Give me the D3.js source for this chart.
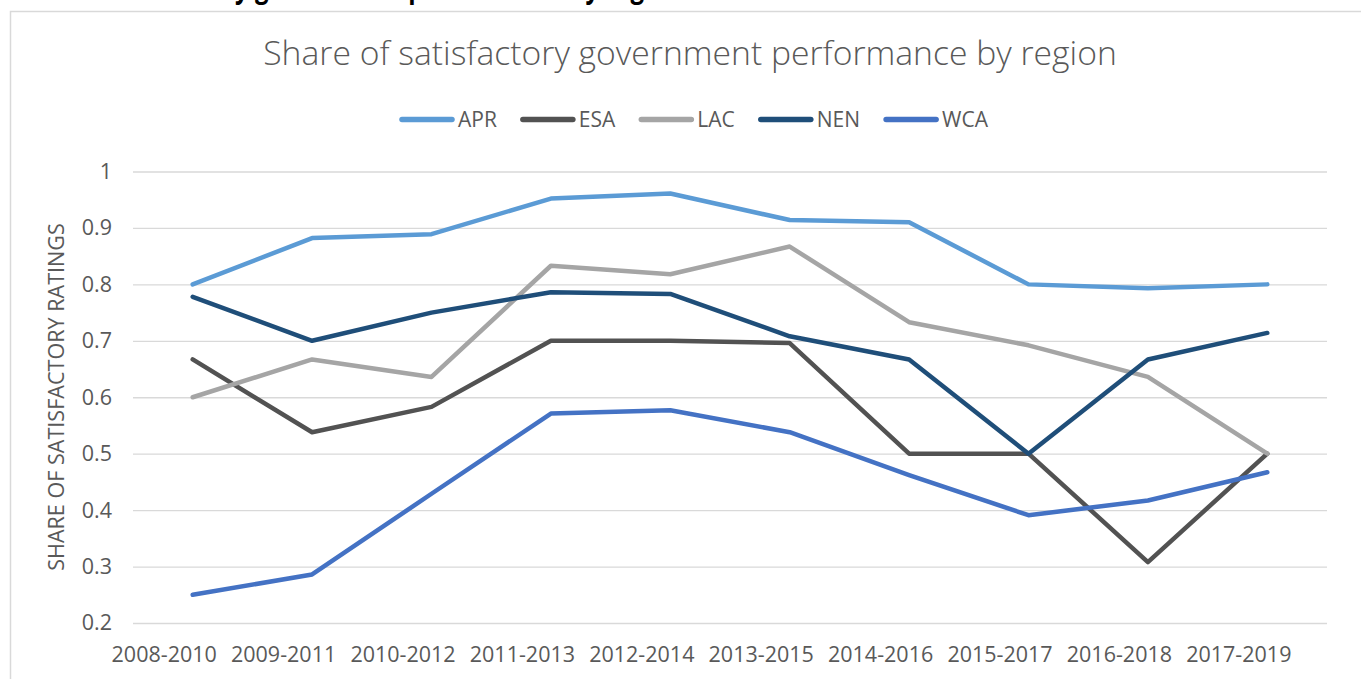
<!DOCTYPE html>
<html>
<head>
<meta charset="utf-8">
<script src="https://cdn.jsdelivr.net/npm/d3@7"></script>
<style>
  body { margin: 0; background: #fff; }
  svg { display: block; }
  text { font-family: "Open Sans", sans-serif; }
</style>
</head>
<body>
<div id="chart"></div>
<script>
// periods on the x axis
var periods = ["2008-2010", "2009-2011", "2010-2012", "2011-2013", "2012-2014",
               "2013-2015", "2014-2016", "2015-2017", "2016-2018", "2017-2019"];

// share of satisfactory ratings, one array per region
var apr = [0.800, 0.882, 0.889, 0.952, 0.961, 0.914, 0.910, 0.800, 0.793, 0.800];
var esa = [0.667, 0.538, 0.583, 0.700, 0.700, 0.696, 0.500, 0.500, 0.308, 0.500];
var lac = [0.600, 0.667, 0.636, 0.833, 0.818, 0.867, 0.733, 0.692, 0.636, 0.500];
var nen = [0.778, 0.700, 0.750, 0.786, 0.783, 0.708, 0.667, 0.500, 0.667, 0.714];
var wca = [0.250, 0.286, 0.429, 0.571, 0.577, 0.538, 0.462, 0.391, 0.417, 0.467];

var regions = ["APR", "ESA", "LAC", "NEN", "WCA"];
var yTicks = [0.2, 0.3, 0.4, 0.5, 0.6, 0.7, 0.8, 0.9, 1];

var series = [
    {name: regions[0], values: apr, color: "#5b9bd5"},
    {name: regions[1], values: esa, color: "#525252"},
    {name: regions[2], values: lac, color: "#a5a5a5"},
    {name: regions[3], values: nen, color: "#1f4e79"},
    {name: regions[4], values: wca, color: "#4472c4"}
];

var svgWidth = 1361;
var svgHeight = 679;

var margin = {
    top: 171.5,
    right: 34,
    bottom: 56,
    left: 133
};

var width = svgWidth - margin.left - margin.right;
var height = svgHeight - margin.top - margin.bottom;

var svg = d3.select("#chart")
    .append("svg")
    .attr("width", svgWidth)
    .attr("height", svgHeight);

// caption of the page above the chart, only its descenders show
var caption = svg.append("text")
    .attr("y", -2.5)
    .attr("font-size", 30)
    .attr("font-weight", "bold")
    .attr("fill", "#000")
    .text("Share of satisfactory government performance by region");
var capTotal = caption.node().getComputedTextLength();
var capPrefix = caption.node().getSubStringLength(0, 20);
var k = 447 / (capTotal - capPrefix);
caption
    .attr("x", 235 - capPrefix * k)
    .attr("textLength", capTotal * k)
    .attr("lengthAdjust", "spacingAndGlyphs");

// chart border
svg.append("rect")
    .attr("x", 10.5)
    .attr("y", 11.5)
    .attr("width", 1400)
    .attr("height", 700)
    .attr("fill", "none")
    .attr("stroke", "#d9d9d9")
    .attr("stroke-width", 1.5);

var title = svg.append("text")
    .attr("x", 690)
    .attr("y", 65)
    .attr("text-anchor", "middle")
    .attr("font-size", 30)
    .attr("font-weight", 300)
    .attr("fill", "#595959")
    .text("Share of satisfactory government performance by region");
var tw = title.node().getComputedTextLength();
title.attr("font-size", 30 * 854 / tw);

var chartGroup = svg.append("g")
    .attr("transform", `translate(${margin.left}, ${margin.top})`);

var xScale = d3.scalePoint()
    .domain(periods)
    .range([0, width])
    .padding(0.5);

var yScale = d3.scaleLinear()
    .domain([0.2, 1])
    .range([height, 0]);

var leftAxis = d3.axisLeft(yScale)
    .tickValues(yTicks)
    .tickSize(-width)
    .tickPadding(21)
    .tickFormat(d3.format("~g"));

var yAxis = chartGroup.append("g")
    .call(leftAxis);
yAxis.select(".domain").remove();
yAxis.selectAll("line")
    .attr("stroke", "#d9d9d9")
    .attr("stroke-width", 1.3);
yAxis.selectAll("text")
    .attr("font-size", 21.5)
    .attr("fill", "#595959")
    .attr("font-family", "Open Sans");

var bottomAxis = d3.axisBottom(xScale)
    .tickSize(0)
    .tickPadding(24);

var xAxis = chartGroup.append("g")
    .attr("transform", `translate(0, ${height})`)
    .call(bottomAxis);
xAxis.select(".domain").remove();
// labels sit a little left of their points in the original
xAxis.selectAll("text")
    .attr("dx", -29)
    .attr("font-size", 21.5)
    .attr("fill", "#595959")
    .attr("font-family", "Open Sans");

// y axis title
var yTitle = svg.append("text")
    .attr("transform", "translate(64, 397) rotate(-90)")
    .attr("text-anchor", "middle")
    .attr("font-size", 19)
    .attr("fill", "#595959")
    .text("SHARE OF SATISFACTORY RATINGS");
var yw = yTitle.node().getComputedTextLength();
yTitle.attr("font-size", 19 * 348 / yw);

var line = d3.line()
    .x((d, i) => xScale(periods[i]))
    .y(d => yScale(d));

chartGroup.selectAll("path.series")
    .data(series)
    .enter()
    .append("path")
    .attr("class", "series")
    .attr("d", d => line(d.values))
    .attr("fill", "none")
    .attr("stroke", d => d.color)
    .attr("stroke-width", 4.5)
    .attr("stroke-linejoin", "round")
    .attr("stroke-linecap", "round");

// legend
var legend = svg.append("g");
var lx = 0;
series.forEach(function(s) {
    var item = legend.append("g")
        .attr("transform", `translate(${lx}, 0)`);
    item.append("line")
        .attr("x1", 3)
        .attr("x2", 53)
        .attr("y1", 0)
        .attr("y2", 0)
        .attr("stroke", s.color)
        .attr("stroke-width", 5.5)
        .attr("stroke-linecap", "round");
    var t = item.append("text")
        .attr("x", 59)
        .attr("y", 0)
        .attr("dy", "0.36em")
        .attr("font-size", 21)
        .attr("fill", "#595959")
        .text(s.name);
    lx += 59 + t.node().getComputedTextLength() + 23;
});
lx -= 23;
legend.attr("transform", `translate(${693.5 - lx / 2}, 119.5)`);
</script>
</body>
</html>
